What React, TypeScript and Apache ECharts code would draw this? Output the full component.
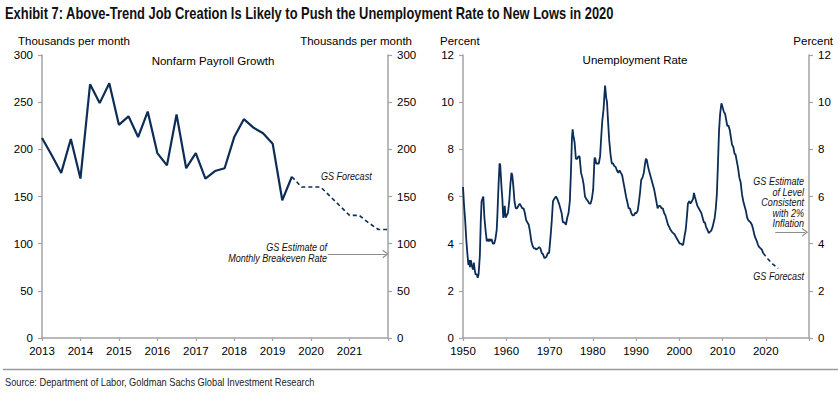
import React, { useEffect, useRef } from "react";
import * as echarts from "echarts";

// ---------- DATA ----------
// Nonfarm payroll growth, quarterly (thousands per month), starting 2013 Q1
const payrollStartYear = 2013;
const payrollActual = [
  212, 194, 175, 211, 169, 269, 249, 270, 226, 235, 213, 240, 196, 183, 237,
  180, 196, 169, 177, 180, 213, 232, 223, 217, 206, 146, 171,
];
// GS forecast, starting at the last actual quarter (2019 Q3)
const payrollForecast = [171, 160, 160, 160, 150, 140, 130, 130, 122, 115, 115];
const payrollBreakeven = 89;
const payrollYearTicks = [2013, 2014, 2015, 2016, 2017, 2018, 2019, 2020, 2021];

// Unemployment rate (percent), [year, rate]
const unempActual: [number, number][] = [
  [1950.0, 6.4], [1950.25, 5.6], [1950.5, 5.0], [1950.75, 4.2], [1951.0, 3.6],
  [1951.25, 3.1], [1951.4, 3.3], [1951.6, 3.0], [1951.8, 3.3], [1952.0, 3.1],
  [1952.3, 2.9], [1952.5, 3.2], [1952.7, 2.9], [1952.9, 2.7], [1953.2, 2.7],
  [1953.4, 2.55], [1953.6, 2.7], [1953.9, 3.5], [1954.1, 4.9], [1954.3, 5.8],
  [1954.5, 5.9], [1954.7, 6.0], [1954.95, 5.1], [1955.2, 4.6], [1955.5, 4.1],
  [1955.7, 4.2], [1955.95, 4.1], [1956.2, 4.2], [1956.4, 4.1], [1956.6, 4.2],
  [1956.9, 4.0], [1957.2, 4.0], [1957.5, 4.2], [1957.8, 4.6], [1957.95, 5.2],
  [1958.2, 6.4], [1958.45, 7.4], [1958.6, 7.35], [1958.9, 6.4], [1959.1, 5.9],
  [1959.3, 5.1], [1959.5, 5.3], [1959.65, 5.6], [1959.85, 5.1], [1960.1, 5.2],
  [1960.4, 5.3], [1960.7, 5.8], [1960.95, 6.5], [1961.2, 7.0], [1961.4, 6.9],
  [1961.7, 6.3], [1961.9, 5.8], [1962.2, 5.5], [1962.5, 5.5], [1962.8, 5.6],
  [1963.1, 5.7], [1963.4, 5.6], [1963.7, 5.5], [1964.0, 5.5], [1964.3, 5.3],
  [1964.6, 5.0], [1964.9, 4.9], [1965.2, 4.8], [1965.5, 4.5], [1965.8, 4.1],
  [1966.1, 3.9], [1966.4, 3.8], [1966.7, 3.8], [1966.95, 3.75], [1967.3, 3.8],
  [1967.6, 3.85], [1967.9, 3.8], [1968.2, 3.6], [1968.5, 3.55], [1968.8, 3.4],
  [1969.0, 3.4], [1969.3, 3.45], [1969.6, 3.6], [1969.9, 3.6], [1970.2, 4.2],
  [1970.5, 4.9], [1970.8, 5.8], [1971.1, 5.9], [1971.5, 6.0], [1971.8, 5.9],
  [1972.2, 5.7], [1972.5, 5.5], [1972.8, 5.3], [1973.1, 4.9], [1973.5, 4.9],
  [1973.8, 4.8], [1974.1, 5.1], [1974.4, 5.3], [1974.7, 5.8], [1974.95, 7.0],
  [1975.2, 8.5], [1975.35, 8.85], [1975.5, 8.6], [1975.8, 8.3], [1976.1, 7.6],
  [1976.4, 7.6], [1976.7, 7.7], [1976.95, 7.7], [1977.3, 7.0], [1977.6, 6.8],
  [1977.9, 6.5], [1978.2, 6.0], [1978.5, 5.9], [1978.9, 5.8], [1979.2, 5.7],
  [1979.5, 5.7], [1979.8, 5.9], [1980.1, 6.3], [1980.4, 7.6], [1980.55, 7.65],
  [1980.8, 7.4], [1981.1, 7.4], [1981.4, 7.4], [1981.7, 7.7], [1981.95, 8.5],
  [1982.2, 9.2], [1982.5, 9.7], [1982.7, 10.3], [1982.85, 10.7], [1983.1, 10.2],
  [1983.3, 10.0], [1983.5, 9.3], [1983.8, 8.4], [1984.1, 7.8], [1984.4, 7.4],
  [1984.7, 7.4], [1984.95, 7.3], [1985.3, 7.25], [1985.6, 7.1], [1985.9, 7.0],
  [1986.2, 7.1], [1986.5, 7.0], [1986.8, 6.9], [1987.1, 6.6], [1987.4, 6.3],
  [1987.7, 6.0], [1987.95, 5.8], [1988.3, 5.5], [1988.6, 5.5], [1988.9, 5.3],
  [1989.2, 5.2], [1989.5, 5.2], [1989.8, 5.3], [1990.1, 5.3], [1990.4, 5.4],
  [1990.7, 5.8], [1990.95, 6.2], [1991.2, 6.7], [1991.5, 6.8], [1991.8, 7.0],
  [1992.1, 7.4], [1992.3, 7.6], [1992.5, 7.55], [1992.75, 7.3], [1993.0, 7.1],
  [1993.3, 6.9], [1993.6, 6.7], [1993.9, 6.5], [1994.2, 6.3], [1994.5, 6.0],
  [1994.8, 5.7], [1995.0, 5.5], [1995.3, 5.6], [1995.6, 5.6], [1995.9, 5.5],
  [1996.2, 5.5], [1996.5, 5.3], [1996.8, 5.2], [1997.1, 5.0], [1997.4, 4.8],
  [1997.7, 4.7], [1997.95, 4.6], [1998.3, 4.5], [1998.6, 4.45], [1998.9, 4.4],
  [1999.2, 4.3], [1999.5, 4.2], [1999.8, 4.1], [2000.1, 4.0], [2000.4, 4.0],
  [2000.7, 3.95], [2000.9, 3.95], [2001.2, 4.3], [2001.5, 4.6], [2001.8, 5.2],
  [2002.0, 5.7], [2002.3, 5.8], [2002.6, 5.7], [2002.9, 5.8], [2003.2, 5.9],
  [2003.4, 6.15], [2003.6, 6.0], [2003.9, 5.8], [2004.2, 5.6], [2004.5, 5.5],
  [2004.8, 5.4], [2005.1, 5.3], [2005.4, 5.1], [2005.7, 4.9], [2005.95, 4.9],
  [2006.2, 4.7], [2006.5, 4.6], [2006.8, 4.45], [2007.1, 4.5], [2007.4, 4.55],
  [2007.7, 4.7], [2007.95, 4.9], [2008.2, 5.1], [2008.45, 5.5], [2008.7, 6.1],
  [2008.95, 7.4], [2009.2, 8.8], [2009.45, 9.5], [2009.75, 9.95], [2010.0, 9.8],
  [2010.3, 9.6], [2010.6, 9.5], [2010.9, 9.2], [2011.1, 9.0], [2011.4, 9.0],
  [2011.7, 8.8], [2011.95, 8.5], [2012.2, 8.2], [2012.5, 8.1], [2012.8, 7.8],
  [2013.0, 7.8], [2013.3, 7.5], [2013.6, 7.2], [2013.9, 6.8], [2014.2, 6.6],
  [2014.5, 6.1], [2014.8, 5.8], [2015.1, 5.6], [2015.4, 5.4], [2015.7, 5.1],
  [2015.95, 5.0], [2016.2, 4.95], [2016.5, 4.9], [2016.8, 4.8], [2017.1, 4.6],
  [2017.4, 4.35], [2017.7, 4.2], [2017.95, 4.1], [2018.2, 3.95], [2018.5, 3.85],
  [2018.8, 3.8], [2019.1, 3.75], [2019.4, 3.6],
];
const unempForecast: [number, number][] = [
  [2019.4, 3.6], [2020.5, 3.35], [2021.7, 3.12], [2022.9, 2.95],
];
const unempInflationLevel = 4.48;
const unempDecadeTicks = [1950, 1960, 1970, 1980, 1990, 2000, 2010, 2020];

// ---------- STYLE ----------
const NAVY = "#0c2d56";
const AXIS_GRAY = "#a3a3a3";
const ARROW_GRAY = "#8c8c8c";
const SANS = "'Liberation Sans', Arial, sans-serif";
const CHEVRON = "path://M0,10 L5,0 L10,10 L8.4,10 L5,3.2 L1.6,10 Z";

// horizontal squeeze factor so a regular font looks like a condensed one of a given width
function squeeze(text: string, font: string, targetWidth: number) {
  try {
    const ctx = document.createElement("canvas").getContext("2d");
    if (!ctx) return 0.8;
    ctx.font = font;
    const w = ctx.measureText(text).width;
    return w > 0 ? targetWidth / w : 0.8;
  } catch (e) {
    return 0.8;
  }
}

function yAxis(gridIndex: number, position: "left" | "right", max: number, interval: number) {
  return {
    type: "value",
    gridIndex,
    position,
    min: 0,
    max,
    interval,
    axisLine: { show: true, onZero: false, lineStyle: { color: AXIS_GRAY, width: 1.5 } },
    axisTick: { show: true, length: 4, lineStyle: { color: AXIS_GRAY, width: 1.2 } },
    axisLabel: { color: "#000", fontSize: 11.5, fontFamily: SANS, margin: 9 },
    splitLine: { show: false },
  };
}

function xAxis(gridIndex: number, min: number, max: number, interval: number, shown: number[]) {
  return {
    type: "value",
    gridIndex,
    min,
    max,
    interval,
    axisLine: { show: true, onZero: false, lineStyle: { color: AXIS_GRAY, width: 1.5 } },
    axisTick: { show: true, length: 3, lineStyle: { color: AXIS_GRAY, width: 1.2 } },
    axisLabel: {
      color: "#000",
      fontSize: 11.5,
      fontFamily: SANS,
      margin: 7,
      showMaxLabel: true,
      formatter: (v: number) => (shown.indexOf(v) >= 0 ? String(v) : ""),
    },
    splitLine: { show: false },
  };
}

function txt(text: string, x: number, y: number, opts: any = {}) {
  const align = opts.align || "left";
  return {
    type: "text",
    silent: true,
    x,
    y,
    scaleX: opts.scaleX || 1,
    style: {
      text,
      x: 0,
      y: 0,
      fill: opts.fill || "#000",
      fontSize: opts.fontSize || 11.5,
      fontFamily: opts.fontFamily || SANS,
      fontWeight: opts.fontWeight || "normal",
      fontStyle: opts.fontStyle || "normal",
      lineHeight: opts.lineHeight,
      align,
      textAlign: align,
      verticalAlign: "middle",
      textVerticalAlign: "middle",
    },
  };
}

export default function App() {
  const ref = useRef<HTMLDivElement>(null);

  useEffect(() => {
    if (!ref.current) return;
    const chart = echarts.init(ref.current, undefined, { renderer: "svg" });

    const payrollActualData = payrollActual.map((v, i) => [payrollStartYear + i * 0.25, v]);
    const fcStart = payrollStartYear + (payrollActual.length - 1) * 0.25;
    const payrollForecastData = payrollForecast.map((v, i) => [fcStart + i * 0.25, v]);

    const titleText =
      "Exhibit 7: Above-Trend Job Creation Is Likely to Push the Unemployment Rate to New Lows in 2020";
    const sourceText = "Source: Department of Labor, Goldman Sachs Global Investment Research";
    const titleScale = squeeze(titleText, "bold 16px 'Liberation Sans'", 610);
    const sourceScale = squeeze(sourceText, "11px 'Liberation Sans'", 310);
    const annScale = squeeze("Monthly Breakeven Rate", "italic 10.5px 'Liberation Sans'", 99);

    const annItalic = { fontStyle: "italic", fontSize: 10.5, fill: "#111", scaleX: annScale };

    chart.setOption({
      animation: false,
      backgroundColor: "#fff",
      grid: [
        { left: 42, top: 55, width: 346, height: 283 },
        { left: 463, top: 55, width: 346, height: 283 },
      ],
      xAxis: [
        xAxis(0, 2013, 2022, 1, payrollYearTicks),
        xAxis(1, 1950, 2030, 10, unempDecadeTicks),
      ],
      yAxis: [
        yAxis(0, "left", 300, 50),
        yAxis(0, "right", 300, 50),
        yAxis(1, "left", 12, 2),
        yAxis(1, "right", 12, 2),
      ],
      series: [
        {
          type: "line",
          xAxisIndex: 0,
          yAxisIndex: 0,
          data: payrollActualData,
          symbol: "none",
          lineStyle: { color: NAVY, width: 2.2 },
        },
        {
          type: "line",
          xAxisIndex: 0,
          yAxisIndex: 0,
          data: payrollForecastData,
          symbol: "none",
          lineStyle: { color: NAVY, width: 1.6, type: [4, 3] },
          markLine: {
            silent: true,
            label: { show: false },
            lineStyle: { color: ARROW_GRAY, width: 1, type: "solid" },
            symbol: ["none", CHEVRON],
            symbolSize: [9, 6],
            data: [
              [
                { coord: [2020.43, payrollBreakeven] },
                { coord: [2021.94, payrollBreakeven] },
              ],
            ],
          },
        },
        {
          type: "line",
          xAxisIndex: 1,
          yAxisIndex: 2,
          data: unempActual,
          symbol: "none",
          lineStyle: { color: NAVY, width: 1.8 },
        },
        {
          type: "line",
          xAxisIndex: 1,
          yAxisIndex: 2,
          data: unempForecast,
          symbol: "none",
          lineStyle: { color: NAVY, width: 1.6, type: [4, 3] },
          markLine: {
            silent: true,
            label: { show: false },
            lineStyle: { color: ARROW_GRAY, width: 1, type: "solid" },
            symbol: ["none", CHEVRON],
            symbolSize: [9, 6],
            data: [
              [
                { coord: [2022.2, unempInflationLevel] },
                { coord: [2029.1, unempInflationLevel] },
              ],
            ],
          },
        },
      ],
      graphic: [
        txt(titleText, 5, 13, {
          fontWeight: "bold",
          fontSize: 16,
          fill: "#111",
          scaleX: titleScale,
        }),
        txt("Thousands per month", 18, 41),
        txt("Thousands per month", 412, 41, { align: "right" }),
        txt("Percent", 440, 41),
        txt("Percent", 833, 41, { align: "right" }),
        txt("Nonfarm Payroll Growth", 213, 61, { align: "center" }),
        txt("Unemployment Rate", 635, 60, { align: "center" }),
        txt("GS Forecast", 321, 176, annItalic),
        txt("GS Estimate of\nMonthly Breakeven Rate", 327, 253, {
          ...annItalic,
          align: "right",
          lineHeight: 10.6,
        }),
        txt("GS Estimate\nof Level\nConsistent\nwith 2%\nInflation", 804, 202.5, {
          ...annItalic,
          align: "right",
          lineHeight: 10.4,
        }),
        txt("GS Forecast", 804, 276, { ...annItalic, align: "right" }),
        {
          type: "line",
          silent: true,
          shape: { x1: 3, y1: 369.5, x2: 838, y2: 369.5 },
          style: { stroke: "#9a9a9a", lineWidth: 1.5 },
        },
        txt(sourceText, 5, 382, { fontSize: 11, fill: "#222", scaleX: sourceScale }),
      ],
    });

    return () => chart.dispose();
  }, []);

  return (
    <div
      ref={ref}
      style={{ position: "fixed", left: 0, top: 0, width: 838, height: 393, background: "#fff" }}
    />
  );
}
